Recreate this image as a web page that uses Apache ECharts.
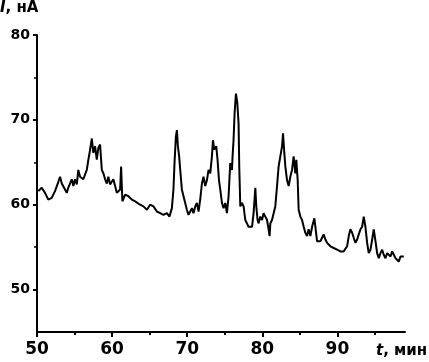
<!DOCTYPE html>
<html>
<head>
<meta charset="utf-8">
<script src="https://cdn.jsdelivr.net/npm/echarts@6/dist/echarts.min.js"></script>
<style>html,body{margin:0;padding:0;background:#fff}#c{width:429px;height:362px}</style>
</head>
<body>
<div id="c"></div>
<script>
var timeMin = [50.17,50.63,51.07,51.5,51.96,52.4,52.84,53.07,53.3,53.73,53.96,54.17,54.63,54.84,55.07,55.3,55.5,55.73,56.17,56.63,56.84,57.07,57.3,57.5,57.73,57.96,58.17,58.4,58.63,58.84,59.07,59.3,59.5,59.73,60.17,60.63,61.07,61.2,61.37,61.73,62.17,62.4,62.63,62.84,63.07,63.29,63.73,64.17,64.63,65.07,65.51,65.96,66.4,66.84,67.29,67.64,67.96,68.17,68.31,68.49,68.63,68.76,68.93,69.07,69.29,69.51,69.73,69.96,70.17,70.4,70.63,70.84,71.07,71.29,71.51,71.73,71.96,72.17,72.4,72.63,72.84,73.07,73.29,73.43,73.6,73.87,74.04,74.23,74.4,74.63,74.84,75.07,75.29,75.51,75.73,75.96,76.04,76.17,76.31,76.49,76.67,76.84,76.93,77.07,77.29,77.51,77.73,77.96,78.17,78.4,78.63,78.84,79.07,79.2,79.37,79.51,79.73,79.96,80.17,80.4,80.63,80.84,80.97,81.07,81.29,81.51,81.73,81.96,82.17,82.4,82.63,82.76,82.93,83.07,83.29,83.51,83.73,83.96,84.17,84.4,84.53,84.71,84.84,85.07,85.29,85.51,85.73,85.96,86.17,86.4,86.63,86.93,87.07,87.29,87.51,87.73,87.96,88.17,88.4,88.63,89.07,89.51,89.96,90.4,90.84,91.07,91.29,91.51,91.73,91.96,92.17,92.4,92.63,92.84,93.07,93.29,93.51,93.73,93.96,94.17,94.4,94.63,94.84,95.07,95.29,95.51,95.73,95.96,96.17,96.4,96.63,97.07,97.29,97.51,97.73,97.96,98.17,98.4,98.63,98.84];
var currentNA = [61.6,62.0,61.4,60.6,60.8,61.6,62.7,63.3,62.5,61.8,61.4,62.0,63.0,62.2,63.0,62.4,64.1,63.3,63.0,64.1,65.3,66.5,67.8,66.1,66.9,65.3,66.7,67.1,64.1,63.7,63.0,62.5,63.3,62.4,63.0,61.4,61.8,64.5,60.4,61.2,61.0,60.8,60.6,60.4,60.4,60.6,60.0,59.8,59.4,60.0,59.8,59.2,59.0,58.8,59.0,58.6,59.6,61.8,64.9,68.0,68.8,66.9,65.7,64.1,61.8,61.0,60.2,59.4,58.8,59.2,59.6,59.0,59.8,60.2,59.2,60.6,62.5,63.3,62.2,62.9,64.1,63.7,65.7,67.6,66.5,66.9,65.3,62.9,61.8,60.2,59.6,60.2,59.0,61.0,64.9,64.1,65.7,67.6,70.8,73.1,72.0,69.6,64.5,59.8,60.2,59.8,58.2,57.8,57.4,57.3,57.4,59.0,62.0,59.8,58.2,57.8,58.6,58.2,59.0,58.6,58.2,57.1,56.3,57.8,58.2,59.0,59.8,62.2,64.5,65.7,66.9,68.4,66.1,64.5,62.9,62.2,63.3,64.1,65.7,63.7,65.3,62.9,59.4,58.6,58.2,57.4,56.7,56.3,57.1,56.3,57.4,58.4,57.4,55.7,55.5,55.7,55.9,56.5,55.9,55.5,55.1,54.9,54.7,54.5,54.5,54.7,55.1,56.3,57.1,56.7,56.1,55.5,55.9,56.5,57.1,57.4,58.6,57.4,55.5,54.3,54.7,55.9,57.1,55.7,54.3,53.7,54.3,54.7,54.1,53.7,54.3,53.9,54.5,54.1,53.7,53.5,53.3,53.9,53.7,53.9];
var xTicks = [50,60,70,80,90];
var xMinorTicks = [55,65,75,85,95];
var yTicks = [50,60,70,80];
var yMinorTicks = [55,65,75];

var seriesData = timeMin.map(function(t,i){return [t,currentNA[i]];});
var FONT = 'DejaVu Sans';
var gridRect = {left:37, top:35, right:24, bottom:30};
var chart = echarts.init(document.getElementById('c'), null, {renderer:'canvas'});
chart.setOption({
  animation:false,
  backgroundColor:'#fff',
  title:[
    {text:'{i|I}, нА', left:0, top:1, padding:0,
     textStyle:{fontFamily:FONT, fontWeight:'bold', fontSize:15, color:'#000',
       rich:{i:{fontFamily:FONT, fontWeight:'bold', fontStyle:'italic', fontSize:15, color:'#000'}}}},
    {text:'{i|t}, мин', left:376, top:344, padding:0,
     textStyle:{fontFamily:FONT, fontWeight:'bold', fontSize:15, color:'#000',
       rich:{i:{fontFamily:FONT, fontWeight:'bold', fontStyle:'italic', fontSize:15, color:'#000'}}}}
  ],
  grid:[
    Object.assign({containLabel:false}, gridRect),
    Object.assign({containLabel:false}, gridRect)
  ],
  xAxis:[
    {type:'value', gridIndex:0, min:50, max:99, position:'bottom',
     axisLine:{show:true, onZero:false, lineStyle:{color:'#000', width:2}},
     axisTick:{show:true, inside:false, length:5, customValues:xTicks, lineStyle:{color:'#000', width:2}},
     axisLabel:{show:true, customValues:xTicks, margin:9, fontFamily:FONT, fontWeight:'bold', fontSize:17, color:'#000'},
     splitLine:{show:false}},
    {type:'value', gridIndex:1, min:50, max:99, position:'bottom',
     axisLine:{show:true, onZero:false, lineStyle:{color:'rgba(0,0,0,0)', width:1}},
     axisTick:{show:true, inside:false, length:3, customValues:xMinorTicks, lineStyle:{color:'#000', width:2}},
     axisLabel:{show:false, customValues:xMinorTicks},
     splitLine:{show:false}}
  ],
  yAxis:[
    {type:'value', gridIndex:0, min:45, max:80, position:'left',
     axisLine:{show:true, onZero:false, lineStyle:{color:'#000', width:2}},
     axisTick:{show:true, inside:false, length:4, customValues:yTicks, lineStyle:{color:'#000', width:2}},
     axisLabel:{show:true, customValues:yTicks, margin:7, fontFamily:FONT, fontWeight:'bold', fontSize:14, color:'#000'},
     splitLine:{show:false}},
    {type:'value', gridIndex:1, min:45, max:80, position:'left',
     axisLine:{show:true, onZero:false, lineStyle:{color:'rgba(0,0,0,0)', width:1}},
     axisTick:{show:true, inside:false, length:3, customValues:yMinorTicks, lineStyle:{color:'#000', width:1.5}},
     axisLabel:{show:false, customValues:yMinorTicks},
     splitLine:{show:false}}
  ],
  series:[
    {type:'line', xAxisIndex:0, yAxisIndex:0, data:seriesData, showSymbol:false, symbol:'none',
     lineStyle:{color:'#000', width:2}, smooth:false},
    {type:'line', xAxisIndex:1, yAxisIndex:1, data:[], showSymbol:false, symbol:'none', silent:true}
  ]
});
</script>
</body>
</html>
